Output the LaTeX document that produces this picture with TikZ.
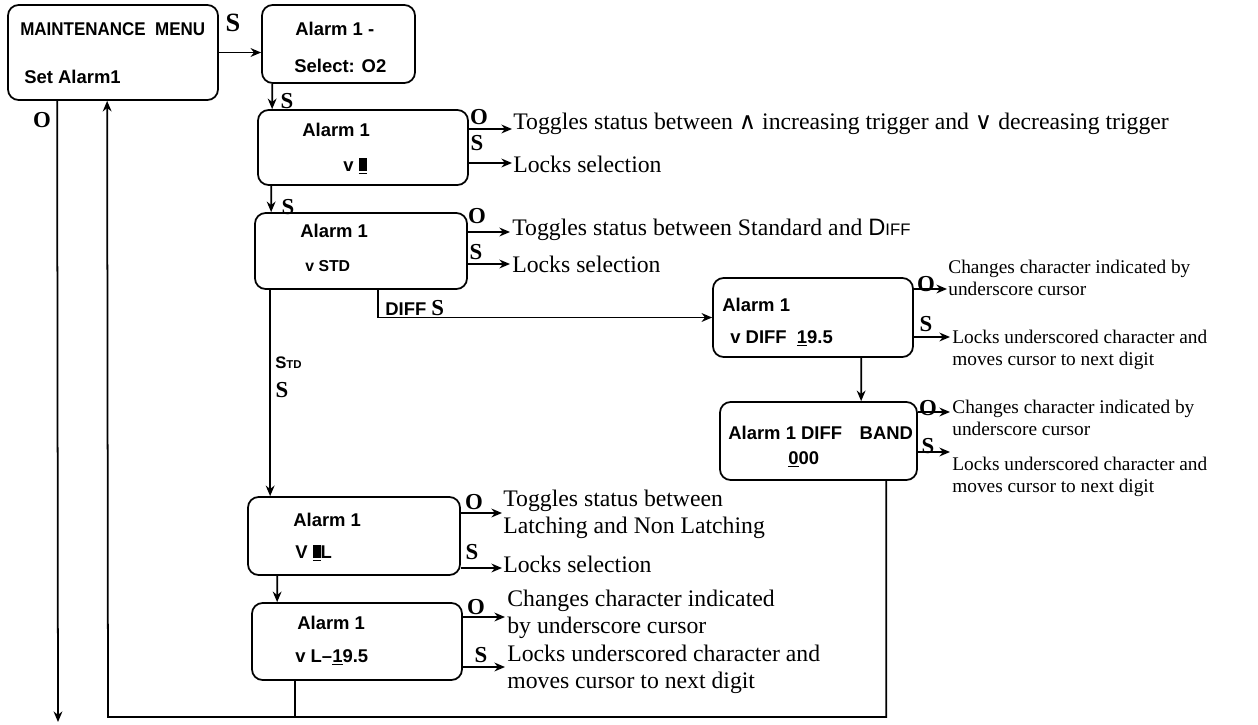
\documentclass[tikz,border=0pt]{standalone}
\usepackage{fontspec}
\setmainfont{Liberation Serif}
\setsansfont{Liberation Sans}
\newfontfamily\opsfont{DejaVu Sans}
\usetikzlibrary{arrows.meta, calc}

% cursor block shown on the display
\newcommand{\blk}{\underline{\rule{4.5pt}{7.5pt}}}

\begin{document}
\begin{tikzpicture}[x=0.02cm, y=-0.02cm,
    lcd/.style={draw, line width=1pt, rounded corners=6pt},
    disp/.style={anchor=base west, inner sep=0pt,
                 font=\sffamily\bfseries\fontsize{10.5}{12}\selectfont},
    key/.style={inner sep=0pt, font=\bfseries\fontsize{13}{13}\selectfont},
    note/.style={anchor=base west, inner sep=0pt, align=left,
                 font=\fontsize{13.5}{15}\selectfont},
    snote/.style={anchor=base west, inner sep=0pt, align=left,
                  font=\fontsize{11}{12.5}\selectfont},
    arr/.style={-{Stealth[length=6pt, width=5pt]}, line width=1pt}
  ]
  \useasboundingbox (0,0) rectangle (1258,724);

  % display boxes
  \node[lcd, minimum width=4.2cm, minimum height=1.9cm] (menu) at (113,52.5) {};
  \node[lcd, minimum width=3.06cm, minimum height=1.56cm] (sel) at (338.5,44) {};
  \node[lcd, minimum width=4.2cm, minimum height=1.5cm] (trig) at (363,147.5) {};
  \node[lcd, minimum width=4.24cm, minimum height=1.52cm] (mode) at (361,251) {};
  \node[lcd, minimum width=4.0cm, minimum height=1.58cm] (diff) at (813,317.5) {};
  \node[lcd, minimum width=3.94cm, minimum height=1.56cm] (band) at (818.5,441) {};
  \node[lcd, minimum width=4.24cm, minimum height=1.56cm] (latch) at (354,536) {};
  \node[lcd, minimum width=4.2cm, minimum height=1.54cm] (limit) at (357,641.5) {};

  % display texts
  \node[disp] (menuA) at (20,35) {\scalebox{0.92}[1]{MAINTENANCE\ \ MENU}};
  \node[disp] (menuB) at (24,83) {Set Alarm1};
  \node[disp] (selA) at (295,35) {Alarm 1 -};
  \node[disp] (selB) at (294,72) {Select: O2};
  \node[disp] (trigA) at (302,136) {Alarm 1};
  \node[disp] (trigB) at (343,171) {v \blk};
  \node[disp] (modeA) at (300,237) {Alarm 1};
  \node[disp, font=\sffamily\bfseries\fontsize{9}{11}\selectfont] (modeB) at (305,271) {v STD};
  \node[disp] (diffA) at (722,311) {Alarm 1};
  \node[disp] (diffB) at (730,343) {v DIFF\ \ \underline{1}9.5};
  \node[disp] (bandA) at (728,439) {Alarm 1 DIFF\hspace{10pt}BAND};
  \node[disp] (bandB) at (788,464) {\underline{0}00};
  \node[disp] (latchA) at (293,526) {Alarm 1};
  \node[disp] (latchB) at (295,558) {V \blk L};
  \node[disp] (limitA) at (297,629) {Alarm 1};
  \node[disp] (limitB) at (295,662) {v L--\underline{1}9.5};

  % key labels
  \node[key, font=\bfseries\fontsize{15}{15}\selectfont] (menuS) at (233,23) {S};
  \node[key] (menuO) at (42,120) {O};
  \node[key] (selS) at (287,101) {S};
  \node[key] (trigO) at (479,117) {O};
  \node[key] (trigS) at (477,143) {S};
  \node[key] (modeS0) at (288,207) {S};
  \node[key] (modeO) at (477,216) {O};
  \node[key] (modeS) at (476,252) {S};
  \node[key] (diffO) at (926,284) {O};
  \node[key] (diffS) at (926,324) {S};
  \node[key] (bandO) at (928,408) {O};
  \node[key] (bandS) at (928,446) {S};
  \node[key] (latchO) at (474,502) {O};
  \node[key] (latchS) at (472,552) {S};
  \node[key] (limitO) at (476,607) {O};
  \node[key] (limitS) at (481,655) {S};
  \node[anchor=base west, inner sep=0pt] (diffkey) at (385,315)
    {\sffamily\bfseries\fontsize{10.5}{12}\selectfont DIFF
     \rmfamily\fontsize{13}{13}\selectfont S};
  \node[anchor=base west, inner sep=0pt] (stdkey) at (275,368)
    {\sffamily\bfseries\fontsize{9.5}{11}\selectfont S{\fontsize{6.5}{8}\selectfont TD}};
  \node[key] (stdS) at (282,390) {S};

  % notes (base = last line)
  \node[note] (trigOn) at (513,129) {Toggles status between {\opsfont ∧} increasing trigger and {\opsfont ∨} decreasing trigger};
  \node[note] (trigSn) at (513,172) {Locks selection};
  \node[note] (modeOn) at (512,235) {Toggles status between Standard and
    {\sffamily D\fontsize{9.5}{11}\selectfont IFF}};
  \node[note] (modeSn) at (512,272) {Locks selection};
  \node[snote] (diffOn) at (948,295) {Changes character indicated by\\underscore cursor};
  \node[snote] (diffSn) at (952,365) {Locks underscored character and\\moves cursor to next digit};
  \node[snote] (bandOn) at (952,435) {Changes character indicated by\\underscore cursor};
  \node[snote] (bandSn) at (952,492) {Locks underscored character and\\moves cursor to next digit};
  \node[note] (latchOn) at (503,533) {Toggles status between\\Latching and Non Latching};
  \node[note] (latchSn) at (503,572) {Locks selection};
  \node[note] (limitOn) at (507,633) {Changes character indicated\\by underscore cursor};
  \node[note] (limitSn) at (507,688) {Locks underscored character and\\moves cursor to next digit};

  % arrow tips
  \coordinate (tTO) at (512,129);
  \coordinate (tTS) at (512,163);
  \coordinate (tMO) at (510,232);
  \coordinate (tMS) at (510,264);
  \coordinate (tDO) at (947,289);
  \coordinate (tDS) at (950,337);
  \coordinate (tBO) at (950,412);
  \coordinate (tBS) at (950,452);
  \coordinate (tLO) at (502,513);
  \coordinate (tLS) at (502,568);
  \coordinate (tVO) at (505,617);
  \coordinate (tVS) at (505,667);
  \coordinate (back) at (108,717);
  \coordinate (exit) at (58,722);

  % flow
  \draw[arr] (menu.east) -- (menu.east -| sel.west);
  \draw[arr] ($(sel.south west)+(11,0)$) -- ($(trig.north west)+(15,0)$);
  \draw[arr] ($(trig.south west)+(14,0)$) -- ($(mode.north west)+(17,0)$);
  \draw[arr] ($(mode.south west)+(124,0)$) |- (diff.west);
  \draw[arr] ($(mode.south west)+(16,0)$) -- ($(latch.north west)+(23,0)$);
  \draw[arr] ($(diff.south west)+(149,0)$) -- ($(band.north west)+(142,0)$);
  \draw[arr] ($(latch.south west)+(30,0)$) -- ($(limit.north west)+(26,0)$);
  \draw[arr] ($(band.south west)+(167,0)$) |- (back) -- ($(menu.south west)+(100,0)$);
  \draw[line width=1pt] ($(limit.south west)+(44,0)$) coordinate (lj) -- (lj |- back);
  \draw[arr] ($(menu.south west)+(50,0)$) -- (exit);

  % side keys
  \foreach \b/\t in {trig/tTO, trig/tTS, mode/tMO, mode/tMS, diff/tDO, diff/tDS,
                     band/tBO, band/tBS, latch/tLO, latch/tLS, limit/tVO, limit/tVS}
    \draw[arr] (\t -| \b.east) -- (\t);
\end{tikzpicture}
\end{document}
